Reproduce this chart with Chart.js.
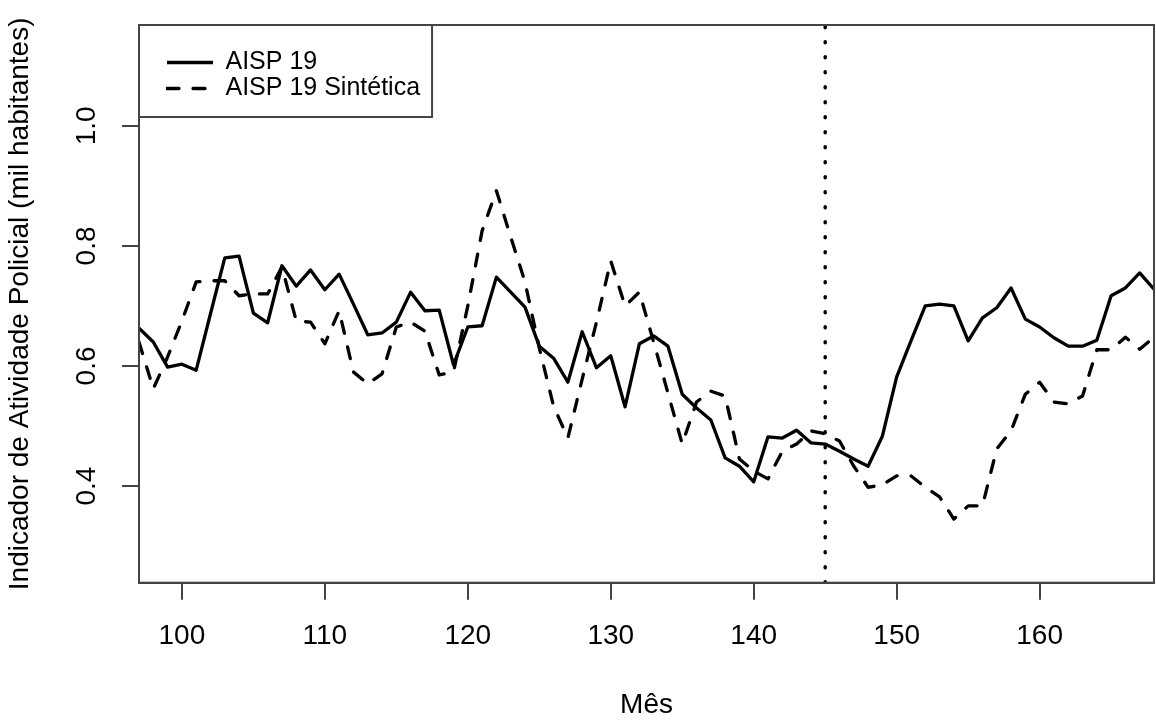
<!DOCTYPE html>
<html>
<head>
<meta charset="utf-8">
<script src="https://cdn.jsdelivr.net/npm/chart.js"></script>
<style>
  body { margin: 0; background: #fff; }
  canvas { display: block; }
</style>
</head>
<body>
<canvas id="chart" width="1156" height="722"></canvas>
<script>
// months 97..168
var months = [];
for (var m = 97; m <= 168; m++) months.push(m);

var aisp19 = [
    0.663, 0.640, 0.598, 0.603, 0.593, 0.687, 0.780, 0.783, 0.688, 0.672,
    0.767, 0.733, 0.760, 0.727, 0.753, 0.703, 0.652, 0.655, 0.673, 0.723,
    0.692, 0.693, 0.602, 0.665, 0.667, 0.748, 0.723, 0.698, 0.633, 0.613,
    0.573, 0.657, 0.597, 0.617, 0.532, 0.637, 0.650, 0.633, 0.553, 0.530,
    0.510, 0.447, 0.433, 0.407, 0.482, 0.480, 0.493, 0.472, 0.470, 0.458,
    0.445, 0.433, 0.483, 0.582, 0.642, 0.700, 0.703, 0.700, 0.642, 0.680,
    0.697, 0.730, 0.678, 0.665, 0.647, 0.633, 0.633, 0.643, 0.717, 0.730,
    0.755, 0.728
];

var aisp19Sint = [
    0.640, 0.562, 0.615, 0.675, 0.740, 0.742, 0.742, 0.717, 0.720, 0.720,
    0.765, 0.675, 0.673, 0.637, 0.692, 0.590, 0.570, 0.587, 0.665, 0.673,
    0.658, 0.585, 0.590, 0.700, 0.825, 0.892, 0.815, 0.740, 0.630, 0.533,
    0.480, 0.578, 0.673, 0.775, 0.700, 0.723, 0.640, 0.555, 0.470, 0.540,
    0.558, 0.550, 0.445, 0.425, 0.412, 0.458, 0.470, 0.492, 0.487, 0.475,
    0.433, 0.398, 0.402, 0.417, 0.417, 0.398, 0.382, 0.345, 0.367, 0.367,
    0.462, 0.492, 0.553, 0.573, 0.540, 0.537, 0.550, 0.627, 0.627, 0.648,
    0.628, 0.648
];

var interventionMonth = 145;
var xTicks = [100, 110, 120, 130, 140, 150, 160];
var yTicks = [0.4, 0.6, 0.8, 1.0];
var xMin = 97, xMax = 168;
var yMin = 0.239, yMax = 1.168;

var axisColor = '#444';
var font = { family: "'Liberation Sans', Arial, sans-serif", size: 28 };

function toPoints(vals) {
    return vals.map(function(v, i) { return { x: months[i], y: v }; });
}

// frame around the plot and box around the legend
var framePlugin = {
    id: 'frame',
    afterLayout: function(chart) {
        chart.legend.left = chart.chartArea.left + 27;
        chart.legend.top = chart.chartArea.top + 24;
    },
    afterDraw: function(chart) {
        var ctx = chart.ctx;
        var a = chart.chartArea;
        ctx.save();
        ctx.strokeStyle = axisColor;
        ctx.lineWidth = 2;
        ctx.strokeRect(a.left, a.top, a.right - a.left, a.bottom - a.top);
        var hb = chart.legend.legendHitBoxes;
        var right = 0, bottom = 0;
        hb.forEach(function(h) {
            right = Math.max(right, h.left + h.width);
            bottom = Math.max(bottom, h.top + h.height);
        });
        ctx.strokeRect(a.left, a.top, right + 12 - a.left, bottom + 16 - a.top);
        ctx.restore();
    }
};

var ctx = document.getElementById('chart').getContext('2d');
var chart = new Chart(ctx, {
    type: 'line',
    data: {
        datasets: [{
            label: 'AISP 19',
            data: toPoints(aisp19),
            borderColor: '#000',
            borderWidth: 3.3,
            borderJoinStyle: 'round',
            pointRadius: 0,
            tension: 0,
            fill: false
        }, {
            label: 'AISP 19 Sintética',
            data: toPoints(aisp19Sint),
            borderColor: '#000',
            borderWidth: 3.3,
            borderDash: [12, 14],
            borderCapStyle: 'round',
            borderJoinStyle: 'round',
            pointRadius: 0,
            tension: 0,
            fill: false
        }, {
            label: 'intervencao',
            data: [{ x: interventionMonth, y: yMin }, { x: interventionMonth, y: yMax }],
            borderColor: '#000',
            borderWidth: 3.5,
            borderDash: [1, 14],
            borderCapStyle: 'round',
            pointRadius: 0,
            fill: false
        }]
    },
    options: {
        responsive: false,
        animation: false,
        layout: { padding: { top: 25, right: 2, left: 0, bottom: 0 } },
        plugins: {
            tooltip: { enabled: false },
            legend: {
                position: 'chartArea',
                align: 'start',
                labels: {
                    usePointStyle: true,
                    pointStyle: 'line',
                    pointStyleWidth: 46,
                    padding: 1,
                    color: '#000',
                    font: { family: font.family, size: 25 },
                    filter: function(item) { return item.datasetIndex < 2; },
                    generateLabels: function(chart) {
                        var items = Chart.defaults.plugins.legend.labels.generateLabels(chart);
                        items.forEach(function(it) {
                            var ds = chart.data.datasets[it.datasetIndex];
                            it.lineDash = ds.borderDash || [];
                            it.lineWidth = ds.borderWidth;
                            it.lineCap = ds.borderCapStyle || 'butt';
                            it.strokeStyle = ds.borderColor;
                        });
                        return items;
                    }
                }
            }
        },
        scales: {
            x: {
                type: 'linear',
                min: xMin,
                max: xMax,
                afterBuildTicks: function(scale) {
                    scale.ticks = xTicks.map(function(v) { return { value: v }; });
                },
                afterFit: function(scale) {
                    scale.height = 139.3;
                    scale.paddingLeft = 0;
                    scale.paddingRight = 0;
                },
                ticks: { font: font, color: '#000', padding: 20, maxRotation: 0 },
                grid: { drawOnChartArea: false, drawTicks: true, tickLength: 17, color: axisColor, lineWidth: 2 },
                border: { display: true, color: axisColor, width: 2 },
                title: { display: true, text: 'Mês', font: font, color: '#000', padding: 0 }
            },
            y: {
                type: 'linear',
                min: yMin,
                max: yMax,
                afterBuildTicks: function(scale) {
                    scale.ticks = yTicks.map(function(v) { return { value: v }; });
                },
                afterFit: function(scale) {
                    scale.width = 139;
                    scale.paddingTop = 0;
                    scale.paddingBottom = 0;
                },
                ticks: {
                    font: font,
                    color: '#000',
                    padding: 15.5,
                    minRotation: 90,
                    maxRotation: 90,
                    crossAlign: 'center',
                    callback: function(v) { return v.toFixed(1); }
                },
                grid: { drawOnChartArea: false, drawTicks: true, tickLength: 17, color: axisColor, lineWidth: 2 },
                border: { display: true, color: axisColor, width: 2 },
                title: {
                    display: true,
                    text: 'Indicador de Atividade Policial (mil habitantes)',
                    font: font,
                    color: '#000',
                    padding: { top: 3, bottom: 0 }
                }
            }
        }
    },
    plugins: [framePlugin]
});
</script>
</body>
</html>
